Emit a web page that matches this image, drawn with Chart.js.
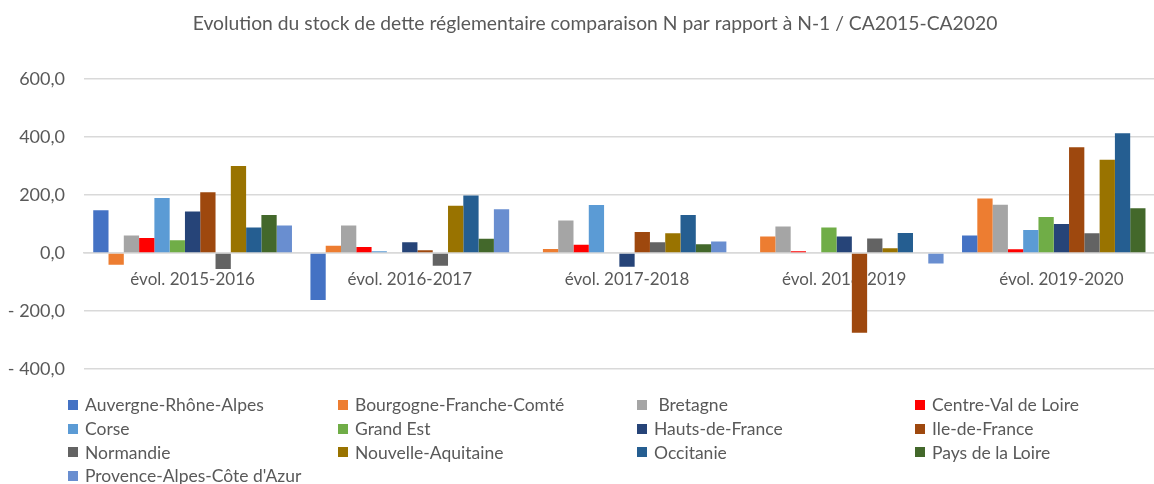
<!DOCTYPE html>
<html lang="fr">
<head>
<meta charset="utf-8">
<title>Evolution du stock de dette réglementaire</title>
<script src="https://cdn.jsdelivr.net/npm/chart.js@4.4.1/dist/chart.umd.min.js"></script>
<style>
    html, body { margin: 0; padding: 0; background: #fff; overflow: hidden; }
    #wrap { position: relative; width: 1190px; height: 484px; }
    #legend { position: absolute; left: 68px; top: 393px; display: grid;
              grid-template-columns: 270px 299px 278px 300px; grid-auto-rows: 23.7px;
              font-family: Lato, sans-serif; font-size: 17.5px; color: #595959; }
    #legend div { display: flex; align-items: center; white-space: pre; }
    #legend span { display: inline-block; width: 10px; height: 10px; margin-right: 7px; flex: none; }
</style>
</head>
<body>
<div id="wrap">
    <canvas id="debtChart" width="1190" height="484"></canvas>
    <div id="legend"></div>
</div>
<script>
const categories = ['évol. 2015-2016', 'évol. 2016-2017', 'évol. 2017-2018', 'évol. 2018-2019', 'évol. 2019-2020'];
const yTicks = [-400, -200, 0, 200, 400, 600];

const auvergneRhoneAlpes   = [148, -162, 0, 0, 61];
const bourgogneFrancheComte = [-40, 25, 14, 57, 188];
const bretagne             = [61, 95, 112, 92, 167];
const centreValDeLoire     = [52, 21, 29, 6, 13];
const corse                = [190, 6, 166, 0, 80];
const grandEst             = [44, 0, 0, 88, 124];
const hautsDeFrance        = [143, 37, -47, 57, 100];
const ileDeFrance          = [210, 10, 73, -275, 365];
const normandie            = [-55, -44, 37, 50, 68];
const nouvelleAquitaine    = [300, 163, 68, 17, 322];
const occitanie            = [88, 199, 131, 69, 413];
const paysDeLaLoire        = [131, 49, 30, 0, 155];
const provenceAlpesCote    = [95, 151, 40, -36, 0];

const seriesNames = ['Auvergne-Rhône-Alpes', 'Bourgogne-Franche-Comté', ' Bretagne', 'Centre-Val de Loire',
    'Corse', 'Grand Est', 'Hauts-de-France', 'Ile-de-France', 'Normandie', 'Nouvelle-Aquitaine',
    'Occitanie', 'Pays de la Loire', "Provence-Alpes-Côte d'Azur"];
const seriesValues = [auvergneRhoneAlpes, bourgogneFrancheComte, bretagne, centreValDeLoire, corse, grandEst,
    hautsDeFrance, ileDeFrance, normandie, nouvelleAquitaine, occitanie, paysDeLaLoire, provenceAlpesCote];
const seriesColors = ['#4472C4', '#ED7D31', '#A5A5A5', '#FF0000', '#5B9BD5', '#70AD47', '#264478',
    '#9E480E', '#636363', '#997300', '#255E91', '#43682B', '#698ED0'];

const font = 'Lato, sans-serif';
const textColor = '#595959';

function formatNumber(v) {
    const s = Math.abs(v).toFixed(1).replace('.', ',');
    return v < 0 ? '- ' + s : s;
}

const ctx = document.getElementById('debtChart').getContext('2d');
const chart = new Chart(ctx, {
    type: 'bar',
    data: {
        labels: categories,
        datasets: seriesNames.map((name, i) => ({
            label: name,
            data: seriesValues[i],
            backgroundColor: seriesColors[i],
            categoryPercentage: 0.915,
            barPercentage: 1
        }))
    },
    options: {
        responsive: false,
        animation: false,
        layout: { padding: { left: 0, right: 0, top: 0, bottom: 115 } },
        plugins: {
            legend: { display: false },
            tooltip: { enabled: false },
            title: {
                display: true,
                text: 'Evolution du stock de dette réglementaire comparaison N par rapport à N-1 / CA2015-CA2020',
                color: textColor,
                font: { family: font, size: 19.3, weight: 'normal' },
                padding: { top: 12, bottom: 44 }
            }
        },
        scales: {
            x: {
                position: { y: 0 },
                grid: { display: false },
                border: { display: true, color: '#D9D9D9', width: 1.5 },
                ticks: { color: textColor, font: { family: font, size: 17 }, padding: 8 }
            },
            y: {
                min: -400,
                max: 600,
                afterBuildTicks: s => { s.ticks = yTicks.map(v => ({ value: v })); },
                afterFit: s => { s.width = 84; },
                grid: { color: '#D9D9D9', lineWidth: 1.5, drawTicks: false },
                border: { display: false },
                ticks: { color: textColor, font: { family: font, size: 18 }, padding: 19,
                         callback: v => formatNumber(v) }
            },
            // empty right margin so the title stays centred on the whole frame
            yRight: {
                position: 'right',
                display: true,
                grid: { display: false },
                border: { display: false },
                ticks: { display: false },
                afterFit: s => { s.width = 20; }
            }
        }
    }
});

const legend = document.getElementById('legend');
chart.data.datasets.forEach(ds => {
    const item = document.createElement('div');
    const box = document.createElement('span');
    box.style.background = ds.backgroundColor;
    item.appendChild(box);
    item.appendChild(document.createTextNode(ds.label));
    legend.appendChild(item);
});
</script>
</body>
</html>
